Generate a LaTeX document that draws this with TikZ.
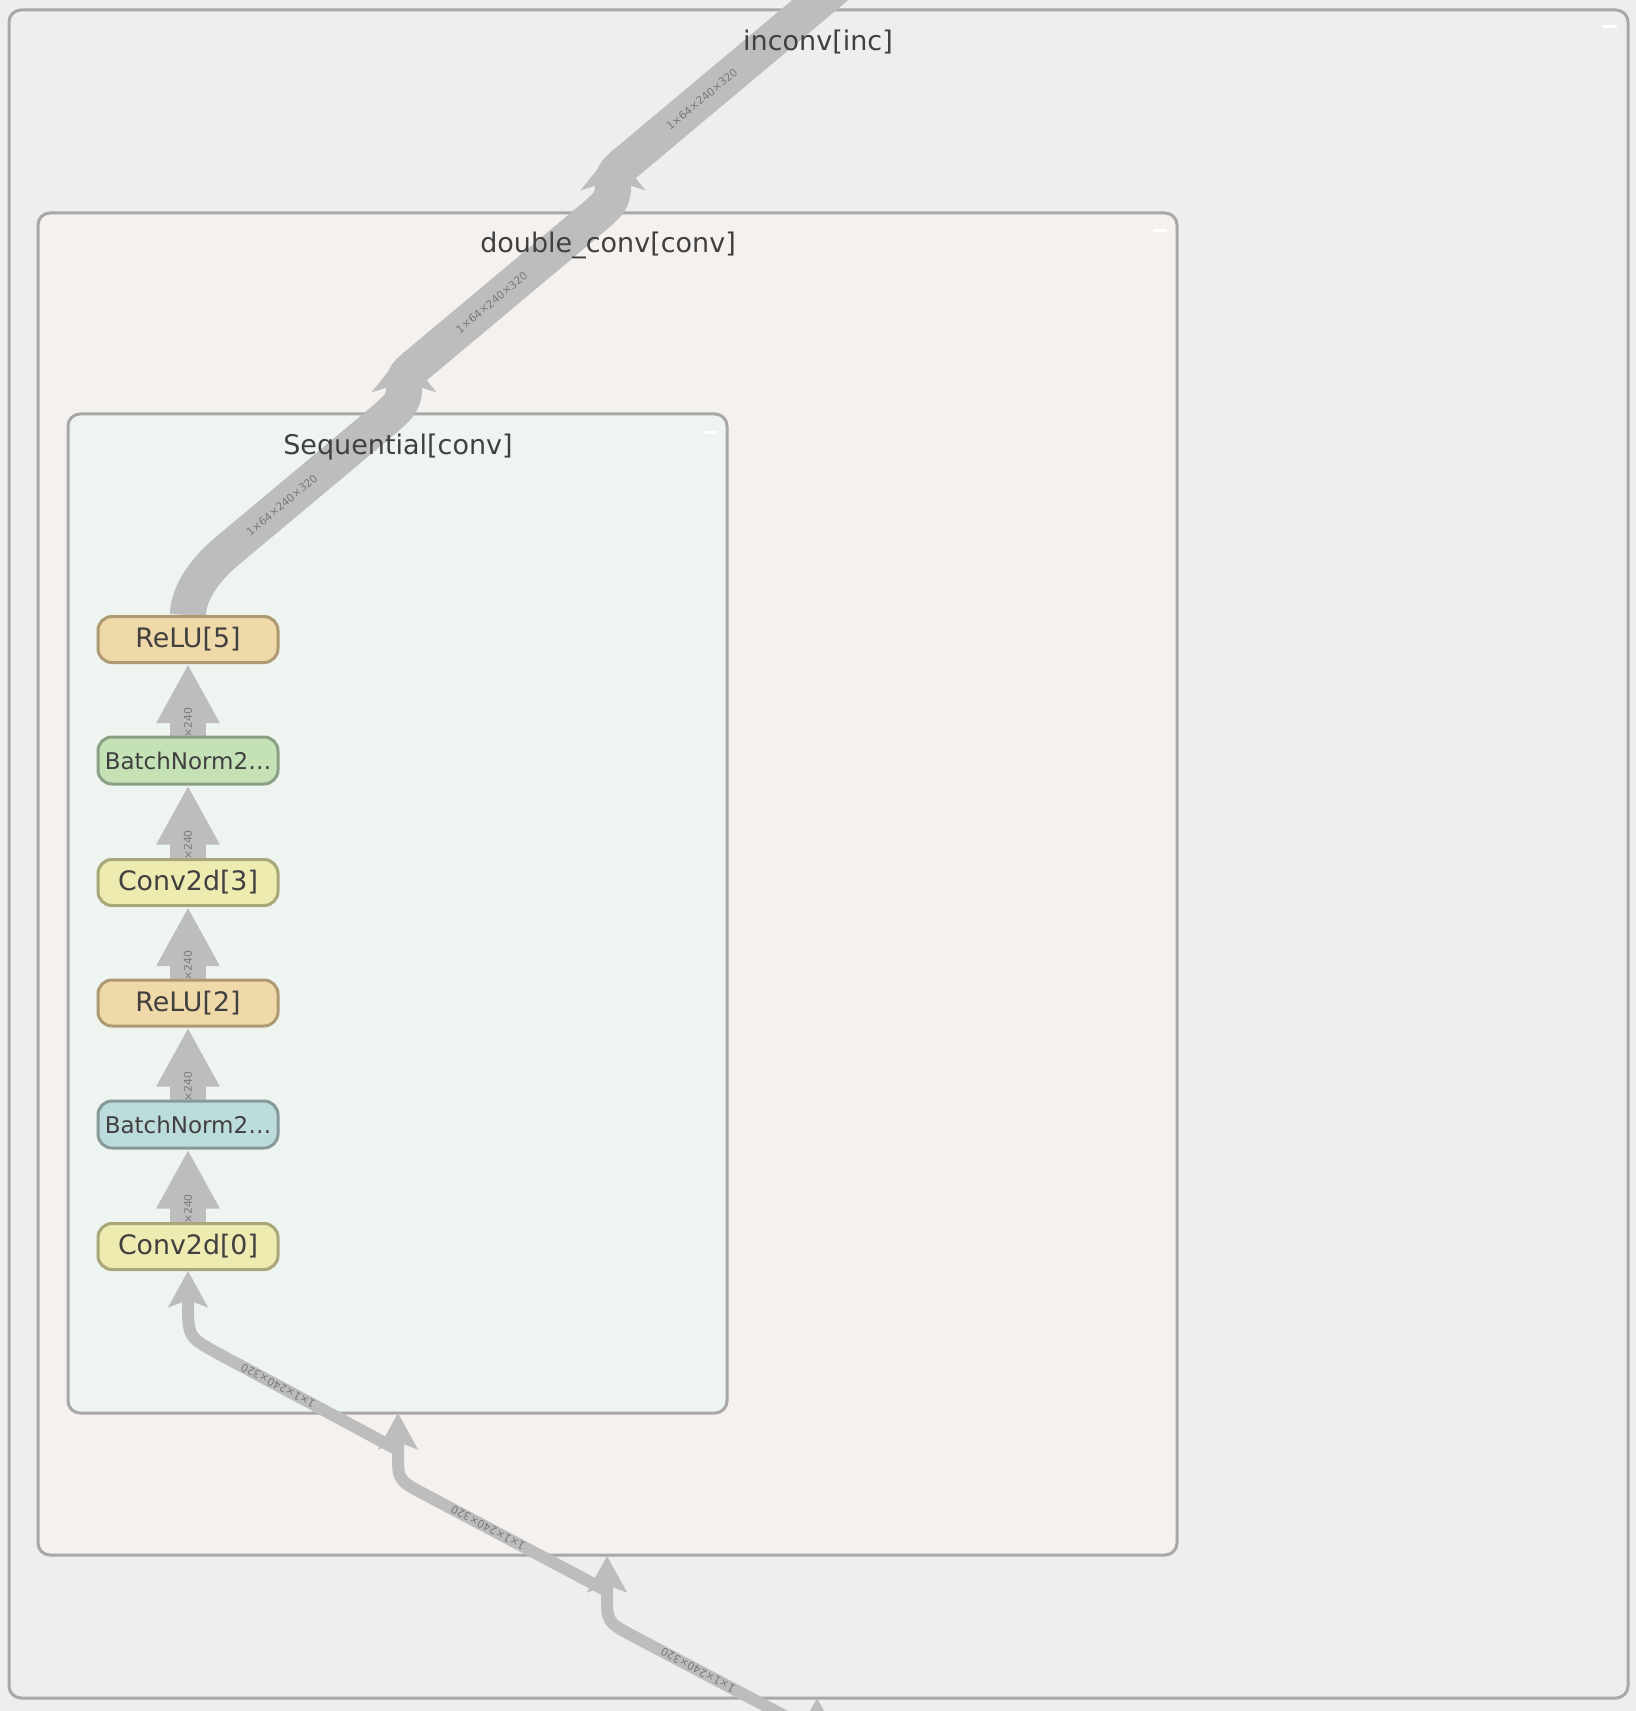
\documentclass[tikz,border=0pt]{standalone}
\usepackage{fontspec}
\setmainfont{DejaVu Sans}
\usetikzlibrary{arrows.meta}
\pgfdeclarelayer{back}
\pgfdeclarelayer{edges}
\pgfsetlayers{back,edges,main}
\definecolor{bgc}{HTML}{EEEEEE}
\definecolor{incfill}{HTML}{EEEEEE}
\definecolor{dcfill}{HTML}{F5F1EE}
\definecolor{seqfill}{HTML}{EEF5F0}
\definecolor{clborder}{HTML}{A8A8A8}
\definecolor{txt}{HTML}{404040}
\definecolor{band}{HTML}{BDBDBD}
\definecolor{lblc}{HTML}{7A7A7A}
\definecolor{relufill}{HTML}{F0D9A8}
\definecolor{reludraw}{HTML}{AD9A72}
\definecolor{bngfill}{HTML}{C5E2B6}
\definecolor{bngdraw}{HTML}{8B9F84}
\definecolor{convfill}{HTML}{EDEBB0}
\definecolor{convdraw}{HTML}{A9A77A}
\definecolor{bnbfill}{HTML}{BCDBDB}
\definecolor{bnbdraw}{HTML}{869A9A}
\begin{document}
\begin{tikzpicture}[x=0.5pt,y=-0.5pt,
  cluster/.style={draw=clborder, line width=1.5pt, rounded corners=6pt, inner sep=0pt},
  title/.style={text=txt, font=\fontsize{13.5}{16}\selectfont, inner sep=0pt},
  layer/.style={line width=1.5pt, rounded corners=7pt, minimum width=90pt, minimum height=23pt, inner sep=0pt, text=txt, font=\fontsize{13.4}{16}\selectfont},
  relu/.style={layer, fill=relufill, draw=reludraw},
  conv/.style={layer, fill=convfill, draw=convdraw},
  bng/.style={layer, fill=bngfill, draw=bngdraw, minimum height=23.5pt, font=\fontsize{11.5}{14}\selectfont},
  bnb/.style={layer, fill=bnbfill, draw=bnbdraw, minimum height=23.5pt, font=\fontsize{11.5}{14}\selectfont},
  flow/.style={draw=band, line width=18pt},
  flowtip/.style={-{Stealth[length=20pt,width=32pt,inset=5pt]}},
  thinflow/.style={draw=band, line width=6pt},
  thintip/.style={-{Stealth[length=18pt,width=19.5pt,inset=3.5pt]}},
  inner/.style={draw=band, line width=18pt, -{Triangle[length=29.5pt,width=29.5pt]}},
  lbl/.style={text=lblc, font=\fontsize{5.4}{6}\selectfont, inner sep=0.5pt},
  marker/.style={draw=white, line width=1.5pt}
]
\useasboundingbox (0,0) rectangle (1636,1711);
\begin{pgfonlayer}{back}
\fill[bgc] (0,0) rectangle (1636,1711);
\end{pgfonlayer}
\clip (0,0) rectangle (1636,1711);

% clusters
\begin{pgfonlayer}{back}
\node[cluster, fill=incfill, minimum width=809.5pt, minimum height=844pt] (inc) at (818.5,854) {};
\node[cluster, fill=dcfill, minimum width=569.5pt, minimum height=671pt] (dc) at (607.5,884) {};
\node[cluster, fill=seqfill, minimum width=329.5pt, minimum height=499.5pt] (seq) at (397.5,913.5) {};
\draw[marker] (1603,27) -- (1617,27);
\draw[marker] (1153,231) -- (1167,231);
\draw[marker] (703,433) -- (717,433);
\end{pgfonlayer}

% layer nodes
\node[relu] (relu5) at (188,639.5) {ReLU[5]};
\node[bng]  (bng)   at (188,760.5) {BatchNorm2…};
\node[conv] (conv3) at (188,882.5) {Conv2d[3]};
\node[relu] (relu2) at (188,1003) {ReLU[2]};
\node[bnb]  (bnb)   at (188,1124.5) {BatchNorm2…};
\node[conv] (conv0) at (188,1246.5) {Conv2d[0]};

% titles
\node[title] (inctitle) at (818,42) {inconv[inc]};
\node[title] (dctitle) at (608,245) {double\_conv[conv]};
\node[title] (seqtitle) at (398,447) {Sequential[conv]};

% ports
\coordinate (q1) at (404,352);
\coordinate (q1b) at (404,394);
\coordinate (q2) at (613,150);
\coordinate (q2b) at (613,192);
\coordinate (qtop) at (880,-50);
\coordinate (pseq) at (398,1413);
\coordinate (pseqb) at (398,1450);
\coordinate (pdc) at (607,1556);
\coordinate (pdcb) at (607,1591);
\coordinate (pinc) at (817,1698);
\coordinate (pincb) at (817,1733);
\coordinate (src) at (817,1800);

\begin{pgfonlayer}{edges}
% bottom thin edges
\draw[thinflow, thintip] (src) -- (pinc);
\draw[thinflow, thintip] (pincb) -- node[lbl, pos=0.647, rotate=152] {1×1×240×320} (633,1636) .. controls (607,1622) .. (607,1594) -- (pdc);
\draw[thinflow, thintip] (pdcb) -- node[lbl, pos=0.65, rotate=152] {1×1×240×320} (424,1494) .. controls (398,1480) .. (398,1454) -- (pseq);
\draw[thinflow, thintip] (pseqb) -- node[lbl, pos=0.67, rotate=152] {1×1×240×320} (219,1354) .. controls (188,1337) .. (188,1302) -- (conv0.south);

% top thick edges
\draw[flow, flowtip] (relu5.north) .. controls (188,592) and (207,568) .. (226,552) -- node[lbl, pos=0.38, rotate=40] {1×64×240×320} (373,429) .. controls (404,403) .. (404,382) -- (q1);
\draw[flow, flowtip] (q1b) .. controls (404,376) .. (417,365) -- node[lbl, pos=0.45, rotate=40] {1×64×240×320} (583,226) .. controls (613,201) .. (613,180) -- (q2);
\draw[flow] (q2b) .. controls (613,174) .. (627,162) -- node[lbl, pos=0.296, rotate=40] {1×64×240×320} (qtop);

% inter-layer edges
\draw[inner] (conv0.north) -- node[lbl, pos=0.18, rotate=90] {×240} (bnb.south);
\draw[inner] (bnb.north) -- node[lbl, pos=0.18, rotate=90] {×240} (relu2.south);
\draw[inner] (relu2.north) -- node[lbl, pos=0.18, rotate=90] {×240} (conv3.south);
\draw[inner] (conv3.north) -- node[lbl, pos=0.18, rotate=90] {×240} (bng.south);
\draw[inner] (bng.north) -- node[lbl, pos=0.18, rotate=90] {×240} (relu5.south);
\end{pgfonlayer}
\end{tikzpicture}
\end{document}
